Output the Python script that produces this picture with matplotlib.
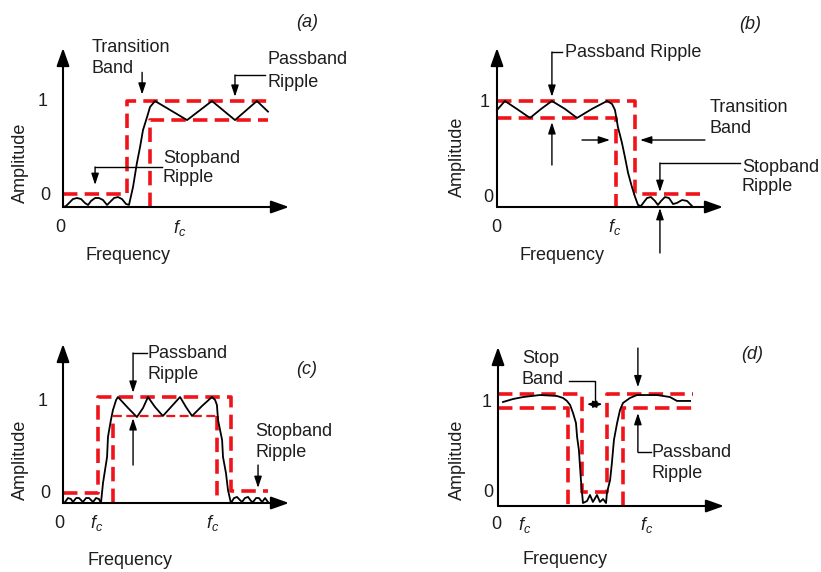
import matplotlib
matplotlib.use("Agg")
import matplotlib.pyplot as plt

plt.rcParams['font.family'] = ['Liberation Sans', 'DejaVu Sans']
plt.rcParams['mathtext.fontset'] = 'custom'
plt.rcParams['mathtext.it'] = 'Liberation Sans:italic'
plt.rcParams['mathtext.rm'] = 'Liberation Sans'

# ---------------- data: normalised frequency / amplitude ----------------
# (a) high-pass response
a_freq = [0, 0.013, 0.027, 0.044, 0.062, 0.080, 0.097, 0.111, 0.124, 0.142, 0.159, 0.177,
          0.195, 0.208, 0.226, 0.243, 0.261, 0.279, 0.292, 0.31, 0.327, 0.341, 0.354, 0.372,
          0.385, 0.407, 0.549, 0.659, 0.761, 0.858, 0.907]
a_amp = [0, 0.009, 0.038, 0.075, 0.085, 0.075, 0.038, 0.019, 0.057, 0.085, 0.085, 0.066,
         0.019, 0.047, 0.085, 0.094, 0.075, 0.028, 0.02, 0.19, 0.415, 0.566, 0.726, 0.849,
         0.943, 1.0, 0.82, 1.0, 0.82, 1.0, 0.9]
a_mask_upper_f = [0, 0.283, 0.283, 0.907]
a_mask_upper_a = [0.123, 0.123, 1.0, 1.0]
a_mask_lower_f = [0.385, 0.385, 0.907]
a_mask_lower_a = [0, 0.82, 0.82]

# (b) low-pass response
b_freq = [0, 0.035, 0.088, 0.146, 0.195, 0.243, 0.301, 0.354, 0.420, 0.487, 0.509, 0.522,
          0.535, 0.553, 0.566, 0.58, 0.597, 0.611, 0.624, 0.637, 0.650, 0.664, 0.681, 0.699,
          0.712, 0.726, 0.743, 0.761, 0.779, 0.796, 0.819, 0.841, 0.867]
b_amp = [0.915, 1.0, 0.925, 0.84, 0.925, 1.0, 0.925, 0.84, 0.925, 1.0, 0.972, 0.915,
         0.755, 0.604, 0.472, 0.321, 0.189, 0.094, 0.019, 0.009, 0.047, 0.085, 0.094, 0.057,
         0.019, 0.057, 0.094, 0.085, 0.028, 0.038, 0.066, 0.057, 0.0]
b_mask_upper_f = [0, 0.61, 0.61, 0.898]
b_mask_upper_a = [1.0, 1.0, 0.123, 0.123]
b_mask_lower_f = [0, 0.525, 0.525]
b_mask_lower_a = [0.84, 0.84, 0]

# (c) band-pass response
c_freq = [0, 0.009, 0.022, 0.035, 0.044, 0.058, 0.071, 0.088, 0.102, 0.115, 0.133, 0.146,
          0.159, 0.168, 0.177, 0.195, 0.199, 0.212, 0.221, 0.235, 0.243, 0.288, 0.327, 0.354,
          0.376, 0.407, 0.442, 0.478, 0.518, 0.544, 0.571, 0.615, 0.659, 0.673, 0.681, 0.686,
          0.704, 0.708, 0.721, 0.730, 0.743, 0.757, 0.770, 0.783, 0.792, 0.805, 0.819, 0.832,
          0.841, 0.854, 0.867, 0.881, 0.894, 0.907]
c_amp = [0, 0.009, 0.047, 0.038, 0.009, 0.047, 0.047, 0.009, 0.047, 0.047, 0.009, 0.047,
         0.038, 0.0, 0.189, 0.434, 0.623, 0.783, 0.877, 0.972, 1.0, 0.896, 0.811, 0.896,
         1.0, 0.906, 0.821, 0.906, 1.0, 0.906, 0.821, 0.915, 1.0, 0.972, 0.925, 0.783,
         0.594, 0.434, 0.283, 0.123, 0.0, 0.047, 0.057, 0.028, 0.009, 0.047, 0.057, 0.019,
         0.009, 0.047, 0.047, 0.009, 0.047, 0.009]
c_mask_outer_f = [0, 0.155, 0.155, 0.743, 0.743, 0.907]
c_mask_outer_a = [0.09, 0.09, 1.0, 1.0, 0.11, 0.11]
c_mask_inner_f = [0.221, 0.221, 0.681, 0.681]
c_mask_inner_a = [0, 0.82, 0.82, 0]

# (d) band-stop response
d_freq = [0.022, 0.066, 0.111, 0.186, 0.261, 0.288, 0.305, 0.319, 0.332, 0.345, 0.35, 0.358,
          0.363, 0.367, 0.372, 0.376, 0.394, 0.407, 0.42, 0.438, 0.451, 0.465, 0.478, 0.482,
          0.496, 0.504, 0.513, 0.527, 0.54, 0.553, 0.584, 0.615, 0.704, 0.761, 0.792, 0.85]
d_amp = [0.981, 1.009, 1.028, 1.047, 1.038, 1.019, 0.991, 0.953, 0.877, 0.783, 0.651, 0.528,
         0.368, 0.245, 0.123, 0.028, 0.047, 0.104, 0.038, 0.104, 0.038, 0.066, 0.028, 0.123,
         0.245, 0.406, 0.623, 0.783, 0.906, 0.972, 1.019, 1.047, 1.047, 1.028, 0.991, 0.991]
d_mask_upper_f = [0, 0.372, 0.372, 0.482, 0.482, 0.863]
d_mask_upper_a = [1.057, 1.057, 0.13, 0.13, 1.057, 1.057]
d_mask_left_f = [0, 0.31, 0.31]
d_mask_left_a = [0.925, 0.925, 0]
d_mask_right_f = [0.553, 0.553, 0.863]
d_mask_right_a = [0, 0.925, 0.925]

# ---------------- figure layout ----------------
W, H = 821, 572
SX, SY = 226.0, 106.0          # pixels per unit frequency / amplitude
fig = plt.figure(figsize=(W / 100, H / 100), dpi=100)

RED = '#f0141a'
TXT = '#1e1e1e'
FS = 13

AXIS_ARROW = dict(arrowstyle='-|>,head_length=0.9,head_width=0.32', mutation_scale=12,
                  lw=1.5, color='black', shrinkA=0, shrinkB=0)
SMALL_ARROW = dict(arrowstyle='-|>,head_length=0.85,head_width=0.28', mutation_scale=8,
                   lw=1.0, color='black', shrinkA=0, shrinkB=0)
DOUBLE_ARROW = dict(arrowstyle='<|-|>,head_length=0.8,head_width=0.3', mutation_scale=7,
                    lw=1.0, color='black', shrinkA=0, shrinkB=0)


def make_panel(box, origin):
    left, top, right, bottom = box
    x0, y0 = origin
    ax = fig.add_axes([left / W, 1 - bottom / H, (right - left) / W, (bottom - top) / H])
    ax.set_xlim((left - x0) / SX, (right - x0) / SX)
    ax.set_ylim((y0 - bottom) / SY, (y0 - top) / SY)
    ax.axis('off')
    ax.annotate('', xy=(0, 1.5), xytext=(0, 0), arrowprops=AXIS_ARROW)
    ax.annotate('', xy=(1.0, 0), xytext=(0, 0), arrowprops=AXIS_ARROW)
    return ax


def mask(ax, f, a, lw=2.6):
    ax.plot(f, a, color=RED, lw=lw, dashes=(4, 2), solid_capstyle='butt',
            dash_capstyle='butt', zorder=2)


def curve(ax, f, a):
    ax.plot(f, a, color='black', lw=1.3, zorder=3)


def arrow(ax, start, end):
    ax.annotate('', xy=end, xytext=start, arrowprops=SMALL_ARROW)


def line(ax, f, a):
    ax.plot(f, a, color='black', lw=1.0, zorder=3)


def label(ax, x, y, s, ha='left', **kw):
    ax.text(x, y, s, ha=ha, va='center', fontsize=FS, color=TXT, **kw)


def frame_labels(ax, one, zero, origin0, fcs, freq, ampl, tag):
    label(ax, one[0], one[1], '1', ha='center')
    label(ax, zero[0], zero[1], '0', ha='center')
    label(ax, origin0[0], origin0[1], '0', ha='center')
    for fx in fcs:
        label(ax, fx, origin0[1], r'$f_c$', ha='center')
    label(ax, freq[0], freq[1], 'Frequency', ha='center')
    ax.text(ampl[0], ampl[1], 'Amplitude', rotation=90, ha='center', va='center',
            fontsize=FS, color=TXT)
    label(ax, tag[0], tag[1], tag[2], ha='center', style='italic')


# ---------------- (a) ----------------
ax = make_panel((0, 0, 410, 286), (63, 207))
mask(ax, a_mask_upper_f, a_mask_upper_a)
mask(ax, a_mask_lower_f, a_mask_lower_a)
curve(ax, a_freq, a_amp)
frame_labels(ax, (-0.088, 1.0), (-0.08, 0.104), (-0.013, -0.198), [0.518],
             (0.288, -0.462), (-0.19, 0.415), (1.08, 1.736, '(a)'))
label(ax, 0.128, 1.5, 'Transition')
label(ax, 0.128, 1.311, 'Band')
arrow(ax, (0.35, 1.27), (0.35, 1.06))
label(ax, 0.907, 1.387, 'Passband')
label(ax, 0.907, 1.179, 'Ripple')
line(ax, [0.894, 0.761], [1.245, 1.245])
arrow(ax, (0.761, 1.245), (0.761, 1.04))
label(ax, 0.442, 0.462, 'Stopband')
label(ax, 0.442, 0.283, 'Ripple')
line(ax, [0.438, 0.142], [0.377, 0.377])
arrow(ax, (0.142, 0.377), (0.142, 0.208))

# ---------------- (b) ----------------
ax = make_panel((410, 0, 821, 286), (497, 207))
mask(ax, b_mask_upper_f, b_mask_upper_a)
mask(ax, b_mask_lower_f, b_mask_lower_a)
curve(ax, b_freq, b_amp)
frame_labels(ax, (-0.053, 0.99), (-0.04, 0.094), (-0.004, -0.189), [0.522],
             (0.288, -0.462), (-0.177, 0.472), (1.119, 1.717, '(b)'))
label(ax, 0.301, 1.462, 'Passband Ripple')
line(ax, [0.288, 0.243], [1.462, 1.462])
arrow(ax, (0.243, 1.462), (0.243, 1.04))
arrow(ax, (0.243, 0.396), (0.243, 0.80))
label(ax, 0.942, 0.934, 'Transition')
label(ax, 0.942, 0.745, 'Band')
arrow(ax, (0.92, 0.632), (0.633, 0.632))
arrow(ax, (0.376, 0.632), (0.50, 0.632))
label(ax, 1.084, 0.377, 'Stopband')
label(ax, 1.084, 0.189, 'Ripple')
line(ax, [1.075, 0.721], [0.415, 0.415])
arrow(ax, (0.721, 0.415), (0.721, 0.142))
arrow(ax, (0.721, -0.434), (0.721, -0.01))

# ---------------- (c) ----------------
ax = make_panel((0, 286, 410, 572), (63, 503))
mask(ax, c_mask_outer_f, c_mask_outer_a)
mask(ax, c_mask_inner_f[:2], c_mask_inner_a[:2])
mask(ax, c_mask_inner_f[1:3], c_mask_inner_a[1:3], lw=1.6)
mask(ax, c_mask_inner_f[2:], c_mask_inner_a[2:])
curve(ax, c_freq, c_amp)
frame_labels(ax, (-0.088, 0.953), (-0.08, 0.094), (-0.018, -0.189), [0.15, 0.664],
             (0.296, -0.538), (-0.19, 0.406), (1.08, 1.255, '(c)'))
label(ax, 0.376, 1.415, 'Passband')
label(ax, 0.376, 1.208, 'Ripple')
line(ax, [0.372, 0.31], [1.415, 1.415])
arrow(ax, (0.31, 1.415), (0.31, 1.04))
arrow(ax, (0.31, 0.358), (0.31, 0.80))
label(ax, 0.85, 0.67, 'Stopband')
label(ax, 0.85, 0.481, 'Ripple')
arrow(ax, (0.863, 0.358), (0.863, 0.142))

# ---------------- (d) ----------------
ax = make_panel((410, 286, 821, 572), (498, 506))
mask(ax, d_mask_upper_f, d_mask_upper_a)
mask(ax, d_mask_left_f, d_mask_left_a)
mask(ax, d_mask_right_f, d_mask_right_a)
curve(ax, d_freq, d_amp)
frame_labels(ax, (-0.049, 0.972), (-0.044, 0.123), (-0.009, -0.179), [0.119, 0.659],
             (0.296, -0.509), (-0.181, 0.434), (1.124, 1.425, '(d)'))
label(ax, 0.106, 1.396, 'Stop')
label(ax, 0.106, 1.198, 'Band')
line(ax, [0.314, 0.429, 0.429], [1.18, 1.18, 0.975])
ax.annotate('', xy=(0.394, 0.96), xytext=(0.462, 0.96), arrowprops=DOUBLE_ARROW)
arrow(ax, (0.619, 1.49), (0.619, 1.12))
label(ax, 0.677, 0.509, 'Passband')
label(ax, 0.677, 0.311, 'Ripple')
line(ax, [0.677, 0.619], [0.509, 0.509])
arrow(ax, (0.619, 0.509), (0.619, 0.877))

fig.savefig('out.png', dpi=100)
